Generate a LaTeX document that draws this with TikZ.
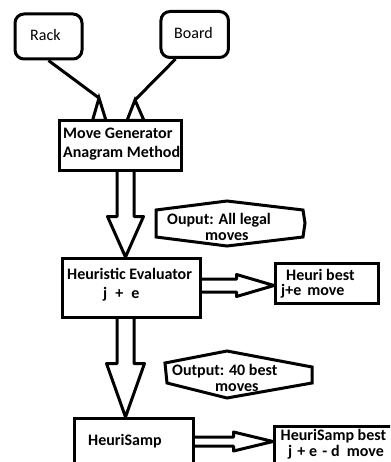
\documentclass[tikz,border=0pt]{standalone}
\usepackage{fontspec}
\setmainfont{Carlito}
\begin{document}
\begin{tikzpicture}[x=1pt,y=-1pt,
  every node/.style={inner sep=0pt},
  box/.style={draw, line width=3pt},
  lbl/.style={font=\fontsize{16}{18}\selectfont\bfseries, anchor=base west},
  plainlbl/.style={font=\fontsize{16}{18}\selectfont, anchor=base west},
  edge/.style={line width=3pt},
  blk/.style={draw, line width=3pt, line join=round},
]
\clip (0,0) rectangle (390,462);
\fill[white] (0,0) rectangle (390,462);

% input boxes
\node[box, rounded corners=9pt, minimum width=67pt, minimum height=45pt] (rack) at (48.5,36.5) {};
\node[box, rounded corners=9pt, minimum width=67.5pt, minimum height=46pt] (board) at (194.7,34.5) {};
\node[plainlbl] (racktxt) at (30,40.5) {Rack};
\node[plainlbl] (boardtxt) at (174,39) {Board};

% processing boxes
\node[box, minimum width=122pt, minimum height=50pt] (mg) at (120.5,145.5) {};
\node[box, minimum width=138pt, minimum height=59pt] (he) at (131.5,288) {};
\node[box, minimum width=103pt, minimum height=40pt] (hb) at (327,283.5) {};
\node[box, minimum width=119pt, minimum height=61.5pt] (hs) at (134,449.25) {};
\node[box, minimum width=145.5pt, minimum height=53.5pt] (hsb) at (347.25,453.25) {};

\node[lbl] (mgtxt1) at (63,138.5) {Move Generator};
\node[lbl] (mgtxt2) at (63,158) {Anagram Method};
\node[lbl] (hetxt1) at (67,279) {Heuristic Evaluator};
\node[lbl] (hetxt2) at (103,298) {j\hspace{8pt}+\hspace{8pt}e};
\node[lbl] (hbtxt1) at (286,280) {Heuri best};
\node[lbl] (hbtxt2) at (281,295) {j+e\hspace{6pt}move};
\node[lbl] (hstxt) at (88,445) {HeuriSamp};
\node[lbl] (hsbtxt1) at (280.5,440) {HeuriSamp best};
\node[lbl] (hsbtxt2) at (288,456)
  {j\hspace{5pt}+\hspace{4pt}e\hspace{5pt}-\hspace{4pt}d\hspace{7pt}move};

% inputs into the move generator
\coordinate (t1) at (99,98);
\coordinate (t2) at (135,100);
\draw[edge] (rack.south) -- (t1);
\draw[edge] (board.232) -- (t2);
\draw[edge, line join=miter] (t1) -- ++(-6.5,22.5) -- ++(13.5,0) -- cycle;
\draw[edge, line join=miter] (t2) -- ++(-8,20.5) -- ++(17,0) -- cycle;

% block arrows downwards
\coordinate (ax) at (125.5,0);
\coordinate (d1s) at (mg.south -| ax);
\coordinate (d1t) at (he.north -| ax);
\draw[blk] ([xshift=-8.5pt]d1s) -- ([xshift=-8.5pt,yshift=40.5pt]d1t)
  -- ([xshift=-18pt,yshift=40.5pt]d1t) -- (d1t)
  -- ([xshift=18pt,yshift=40.5pt]d1t) -- ([xshift=8.5pt,yshift=40.5pt]d1t)
  -- ([xshift=8.5pt]d1s);
\coordinate (d2s) at (he.south -| ax);
\coordinate (d2t) at (hs.north -| ax);
\draw[blk] ([xshift=-8.5pt]d2s) -- ([xshift=-8.5pt,yshift=53.5pt]d2t)
  -- ([xshift=-19pt,yshift=53.5pt]d2t) -- (d2t)
  -- ([xshift=19pt,yshift=53.5pt]d2t) -- ([xshift=8.5pt,yshift=53.5pt]d2t)
  -- ([xshift=8.5pt]d2s);

% block arrows to the right
\coordinate (ay1) at (0,285.5);
\coordinate (r1s) at (he.east |- ay1);
\coordinate (r1t) at (hb.west |- ay1);
\draw[blk] ([yshift=6.5pt]r1s) -- ([xshift=-37.5pt,yshift=6.5pt]r1t)
  -- ([xshift=-37.5pt,yshift=11pt]r1t) -- (r1t)
  -- ([xshift=-37.5pt,yshift=-11pt]r1t) -- ([xshift=-37.5pt,yshift=-6.5pt]r1t)
  -- ([yshift=-6.5pt]r1s);
\coordinate (ay2) at (0,441.5);
\coordinate (r2s) at (hs.east |- ay2);
\coordinate (r2t) at (hsb.west |- ay2);
\draw[blk] ([yshift=4.5pt]r2s) -- ([xshift=-39.5pt,yshift=4.5pt]r2t)
  -- ([xshift=-39.5pt,yshift=9.5pt]r2t) -- (r2t)
  -- ([xshift=-39.5pt,yshift=-9.5pt]r2t) -- ([xshift=-39.5pt,yshift=-4.5pt]r2t)
  -- ([yshift=-4.5pt]r2s);

% output annotations
\draw[edge] (156,210) -- (227,201) -- (303,210) -- (305,223) -- (303,237)
  -- (227,246) -- (156,237) -- cycle;
\node[lbl] (o1a) at (167,224) {Ouput: All legal};
\node[lbl] (o1b) at (205,240) {moves};
\draw[edge] (165,363) -- (227,351) -- (312,367) -- (312,383) -- (227,398)
  -- (167,383) -- cycle;
\node[lbl] (o2a) at (172,375.5) {Output: 40 best};
\node[lbl] (o2b) at (215,391.5) {moves};
\end{tikzpicture}
\end{document}
